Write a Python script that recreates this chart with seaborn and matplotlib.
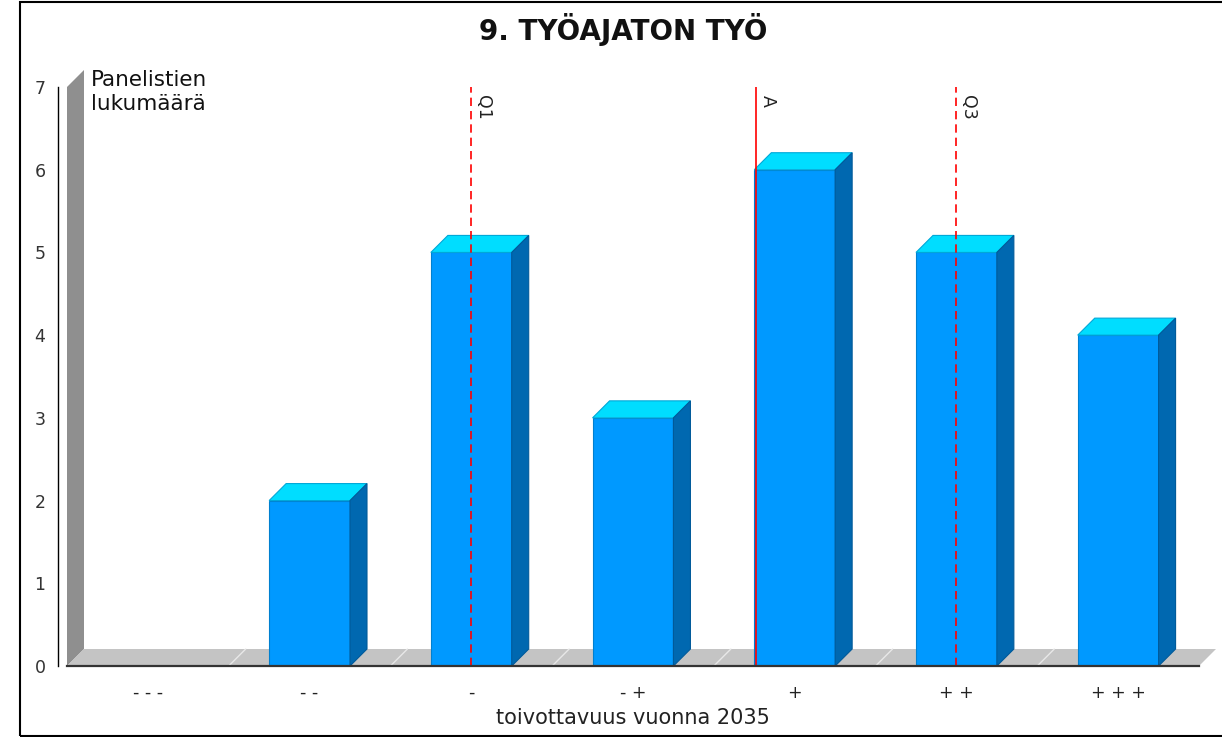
import numpy as np
import pandas as pd
import matplotlib
matplotlib.use("Agg")
import matplotlib.pyplot as plt
from matplotlib.patches import Polygon, Rectangle
import seaborn as sns

# data
categories = ["- - -", "- -", "-", "- +", "+", "+ +", "+ + +"]
counts = [0, 2, 5, 3, 6, 5, 4]
stat_labels = ["Q1", "A", "Q3"]
stat_positions = [2, 3.76, 5]

title = "9. TYÖAJATON TYÖ"
x_title = "toivottavuus vuonna 2035"
y_title = "Panelistien\nlukumäärä"

sns.set_style("white")
plt.rcParams["font.family"] = ["DejaVu Sans"]

W, H, DPI = 1222, 737, 100
fig = plt.figure(figsize=(W / DPI, H / DPI), dpi=DPI)
ax = fig.add_axes([67 / W, (H - 666) / H, (1199 - 67) / W, (666 - 87) / H])

df = pd.DataFrame({"cat": categories, "n": counts})
sns.barplot(data=df, x="cat", y="n", color="#0099FF", width=0.5,
            edgecolor="#0080D0", linewidth=0.8, saturation=1, ax=ax, zorder=3)

ax.set_xlim(-0.5, len(categories) - 0.5)
ax.set_ylim(0, 7)

# 3d depth in data units (17 px right and up)
p0 = ax.transData.transform((0, 0))
p1 = ax.transData.transform((1, 1))
dx = 17 / (p1[0] - p0[0])
dy = 17 / (p1[1] - p0[1])

x0, x1 = -0.5, len(categories) - 0.5
# back wall and floor
ax.add_patch(Polygon([(x0, 0), (x0, 7), (x0 + dx, 7 + dy), (x0 + dx, dy)],
                     closed=True, fc="#8F8F8F", ec="none", zorder=1, clip_on=False))
ax.add_patch(Polygon([(x0, 0), (x1, 0), (x1 + dx, dy), (x0 + dx, dy)],
                     closed=True, fc="#C4C4C4", ec="none", zorder=1, clip_on=False))
for b in np.arange(0.5, len(categories) - 0.5, 1.0):
    ax.plot([b, b + dx], [0, dy], color="#E8E8E8", lw=1, zorder=1.5, clip_on=False)

# tops and sides of the bars
for bar in ax.patches:
    if not hasattr(bar, "get_width"):
        continue
    h = bar.get_height()
    if h <= 0:
        continue
    l = bar.get_x()
    r = l + bar.get_width()
    ax.add_patch(Polygon([(l, h), (r, h), (r + dx, h + dy), (l + dx, h + dy)],
                         closed=True, fc="#00DDFF", ec="#00A8D8", lw=0.8,
                         zorder=3, clip_on=False))
    ax.add_patch(Polygon([(r, 0), (r, h), (r + dx, h + dy), (r + dx, dy)],
                         closed=True, fc="#0068B0", ec="#005A9A", lw=0.8,
                         zorder=3, clip_on=False))

# quartile / mean markers
for lab, pos in zip(stat_labels, stat_positions):
    ls = "-" if lab == "A" else (0, (5, 3))
    ax.axvline(pos, color="red", lw=1.2, ls=ls, zorder=4)
    ax.annotate(lab, xy=(pos, 7), xytext=(2, -6), textcoords="offset points",
                rotation=-90, ha="left", va="top", fontsize=12.5, color="#222222")

# axes styling
for s in ["top", "right"]:
    ax.spines[s].set_visible(False)
ax.spines["left"].set_position(("outward", 6.5))
ax.spines["left"].set_color("black")
ax.spines["left"].set_linewidth(1)
ax.spines["bottom"].set_color("#333333")
ax.spines["bottom"].set_linewidth(1.6)
ax.spines["bottom"].set_zorder(5)

ax.set_yticks(range(0, 8))
ax.tick_params(axis="y", direction="out", length=4, width=1, color="#999999",
               labelsize=12.5, labelcolor="#333333", pad=5)
ax.set_xticks(range(len(categories)))
ax.set_xticklabels(categories)
ax.set_xticks(np.arange(-0.5, len(categories), 1.0), minor=True)
ax.tick_params(axis="x", which="major", length=0, labelsize=12.5,
               labelcolor="#222222", pad=13)
ax.tick_params(axis="x", which="minor", direction="out", length=5, width=1,
               color="#BBBBBB")
ax.set_xlabel(x_title, fontsize=15, labelpad=4, color="#222222")
ax.set_ylabel("")
ax.grid(False)

fig.text(91 / W, 1 - 70 / H, y_title, ha="left", va="top", fontsize=15.5,
         linespacing=1.25, color="#111111")
fig.text(623 / W, 1 - 30 / H, title, ha="center", va="center",
         fontsize=20, fontweight="bold", color="#111111")

# outer frame
fig.patches.append(Rectangle((20 / W, 1 / H), 1.0, 1 - 3 / H, transform=fig.transFigure,
                             fill=False, ec="black", lw=1.5))

fig.savefig("out.png", dpi=DPI)
